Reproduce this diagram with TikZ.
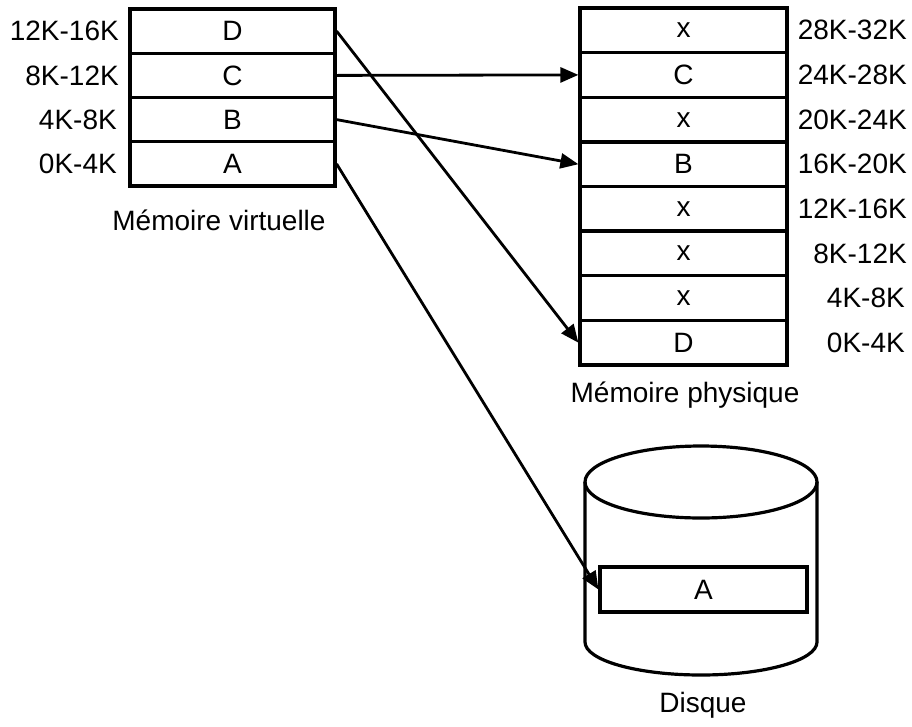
\documentclass[tikz,border=0pt]{standalone}
\usepackage{fontspec}
\setmainfont{Liberation Sans}
\usetikzlibrary{arrows.meta}
\newcommand\diagfont{\fontsize{28}{32}\selectfont}
\begin{document}
\begin{tikzpicture}[x=1pt,y=1pt,
  cell/.style={draw, line width=3.2pt, inner sep=0pt, font=\diagfont},
  vcell/.style={cell, minimum width=205pt, minimum height=44.25pt},
  pcell/.style={cell, minimum width=207pt, minimum height=44.625pt},
  addr/.style={inner sep=0pt, font=\diagfont},
  caption/.style={inner sep=0pt, font=\diagfont, anchor=base},
  map/.style={line width=2.8pt, -{Triangle[length=18pt,width=15pt]}},
  disk/.style={line width=3.2pt}
]
\useasboundingbox (0,0) rectangle (912,-726);

% virtual memory
\node[vcell] (vD) at (232.5,-31.1) {D};
\node[vcell] (vC) at (232.5,-75.4) {C};
\node[vcell] (vB) at (232.5,-119.6) {B};
\node[vcell] (vA) at (232.5,-163.9) {A};
\node[addr, anchor=east] (lvD) at (119,-31.1) {12K-16K};
\node[addr, anchor=east] (lvC) at (119,-75.4) {8K-12K};
\node[addr, anchor=east] (lvB) at (117,-119.6) {4K-8K};
\node[addr, anchor=east] (lvA) at (117,-163.9) {0K-4K};
\node[caption] (vcap) at (219,-230) {Mémoire virtuelle};

% physical memory
\node[pcell] (p7) at (683.5,-30.3) {x};
\node[pcell] (pC) at (683.5,-74.9) {C};
\node[pcell] (p5) at (683.5,-119.6) {x};
\node[pcell] (pB) at (683.5,-164.2) {B};
\node[pcell] (p3) at (683.5,-208.8) {x};
\node[pcell] (p2) at (683.5,-253.4) {x};
\node[pcell] (p1) at (683.5,-298.1) {x};
\node[pcell] (pD) at (683.5,-342.7) {D};
\node[addr, anchor=east] (lp7) at (907,-30.3) {28K-32K};
\node[addr, anchor=east] (lp6) at (907,-74.9) {24K-28K};
\node[addr, anchor=east] (lp5) at (907,-119.6) {20K-24K};
\node[addr, anchor=east] (lp4) at (907,-164.2) {16K-20K};
\node[addr, anchor=east] (lp3) at (907,-208.8) {12K-16K};
\node[addr, anchor=east] (lp2) at (907,-253.4) {8K-12K};
\node[addr, anchor=east] (lp1) at (905,-298.1) {4K-8K};
\node[addr, anchor=east] (lp0) at (905,-342.7) {0K-4K};
\node[caption] (pcap) at (685,-402) {Mémoire physique};

% disk
\draw[disk] (701,-482) ellipse [x radius=116, y radius=36];
\draw[disk] (585,-482) -- (585,-642)
  arc [start angle=180, end angle=360, x radius=116, y radius=33]
  -- (817,-482);
\node[cell, minimum width=207pt, minimum height=45pt] (dA) at (703.5,-589.5) {A};
\node[caption] (dcap) at (703,-712) {Disque};

% page mappings
\draw[map] (vD.east) -- (pD.west);
\draw[map] (vC.east) -- (pC.west);
\draw[map] (vB.east) -- (pB.west);
\draw[map] (vA.east) -- (dA.west);
\end{tikzpicture}
\end{document}
